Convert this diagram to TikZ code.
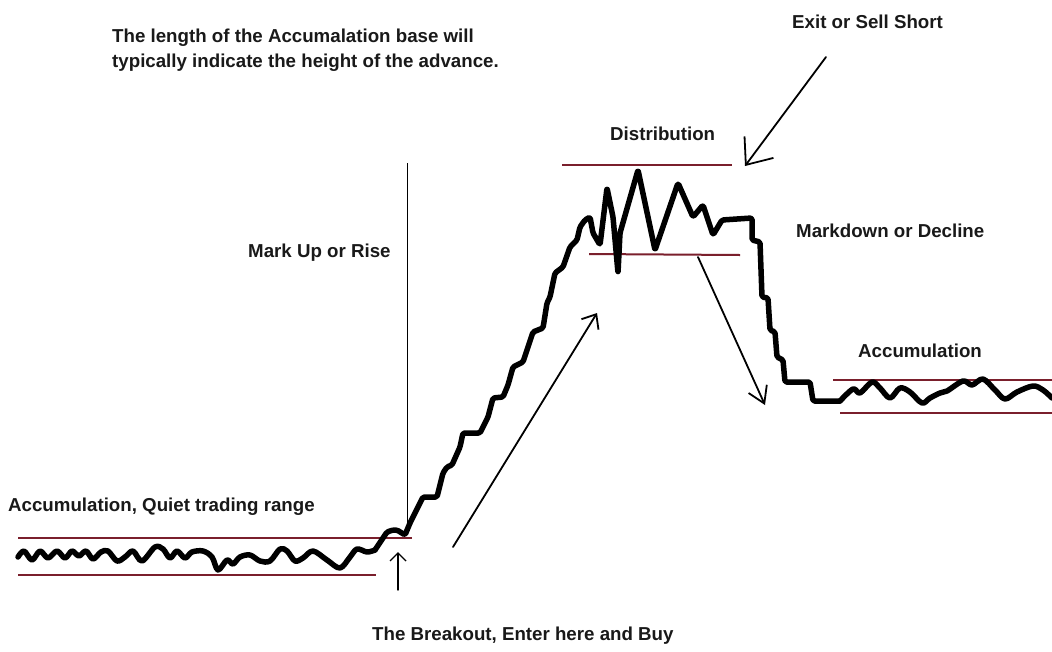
\documentclass[tikz,border=0pt]{standalone}
\usepackage{fontspec}
\setmainfont{Liberation Sans}
\usetikzlibrary{arrows.meta}
\definecolor{rangered}{HTML}{7A1F2C}
\tikzset{
  lbl/.style={anchor=base west, inner sep=0pt, font=\fontsize{18.7}{25}\selectfont\bfseries, text=black!90},
  price/.style={line width=5.5pt, line join=round, line cap=round},
  rangeline/.style={line width=2pt, rangered},
  hand/.style={line width=1.8pt, line cap=round},
}
\begin{document}
\begin{tikzpicture}[x=1pt,y=-1pt]
\fill[white] (0,0) rectangle (1052,651);
\useasboundingbox (0,0) rectangle (1052,651);

% texts
\node[lbl, align=left] (note) at (112,67) {The length of the Accumalation base will\\typically indicate the height of the advance.};
\node[lbl] (exit) at (792,28) {Exit or Sell Short};
\node[lbl] (dist) at (610,140) {Distribution};
\node[lbl] (markup) at (248,257) {Mark Up or Rise};
\node[lbl] (markdown) at (796,237) {Markdown or Decline};
\node[lbl] (accR) at (858,357) {Accumulation};
\node[lbl] (accL) at (8,511) {Accumulation, Quiet trading range};
\node[lbl] (brk) at (372,640) {The Breakout, Enter here and Buy};

% range lines
\draw[rangeline] (18,538) -- (412,538);
\draw[rangeline] (18,575) -- (376,575);
\draw[rangeline] (562,165) -- (732,165);
\draw[rangeline] (589,254) -- (740,255);
\draw[rangeline] (833,380) -- (1052,380);
\draw[rangeline] (840,413) -- (1052,413);

% vertical mark-up line
\draw[line width=1pt] (407,163) -- (407,530);

% price line: quiet base
\draw[price] plot[smooth, tension=0.55] coordinates {(18,557) (24,551) (32,560) (40,551) (48,558) (57,551) (65,558) (72,551) (79,556) (86,551) (93,559) (101,552) (108,551) (117,561) (125,557) (133,551) (142,561) (155,547) (163,549) (170,558) (177,551) (185,558) (192,552) (203,551) (212,557) (218,570) (227,560) (233,564) (240,557) (250,555) (260,561) (270,561) (280,549) (287,551) (295,561) (303,558) (313,551) (327,560) (340,568) (350,557) (357,549) (367,552) (375,550)};
% price line: breakout, mark up, distribution, mark down
\draw[price, rounded corners=1.5pt] (375,550) -- (387,532) -- (393,530) -- (397,530) -- (405,535) -- (410,523) -- (423,497) -- (437,497) -- (443,473) -- (447,467) -- (452,465) -- (460,447) -- (463,433) -- (480,433) -- (488,417) -- (493,398) -- (503,397) -- (508,385) -- (513,367) -- (523,362) -- (533,332) -- (543,328) -- (547,303) -- (550,297) -- (555,273) -- (563,267) -- (570,247) -- (577,240) -- (580,227) -- (585,220) -- (590,217) -- (593,233) -- (600,245) -- (607,188) -- (613,217) -- (618,273) -- (620,233) -- (638,170) -- (655,250) -- (678,183) -- (693,217) -- (703,205) -- (713,235) -- (722,220) -- (752,218) -- (752,240) -- (760,242) -- (762,297) -- (768,298) -- (770,330) -- (775,332) -- (777,357) -- (783,360) -- (785,382) -- (810,382) -- (813,401) -- (840,401);
% price line: new base
\draw[price] plot[smooth, tension=0.55] coordinates {(840,401) (853,389) (860,393) (872,382) (880,388) (890,398) (900,388) (910,392) (922,403) (930,398) (940,393) (947,391) (963,381) (972,385) (983,379) (995,390) (1005,399) (1017,392) (1033,386) (1043,390) (1052,398)};

% arrows
\coordinate (exitA) at (826,57);
\coordinate (exitB) at (745,166);
\coordinate (upA) at (453,547);
\coordinate (upB) at (597,313);
\coordinate (dnA) at (698,257);
\coordinate (dnB) at (765,405);
\coordinate (bkA) at (398,590);
\coordinate (bkB) at (398,552);
\draw[hand, -{Straight Barb[length=22pt,width=36pt,line width=1.8pt]}] (exitA) -- (exitB);
\draw[hand, -{Straight Barb[length=12pt,width=20pt,line width=1.8pt]}] (upA) -- (upB);
\draw[hand, -{Straight Barb[length=16pt,width=20pt,line width=1.8pt]}] (dnA) -- (dnB);
\draw[hand, line width=1.4pt, -{Straight Barb[length=8pt,width=16pt,line width=1.4pt]}] (bkA) -- (bkB);
\end{tikzpicture}
\end{document}
